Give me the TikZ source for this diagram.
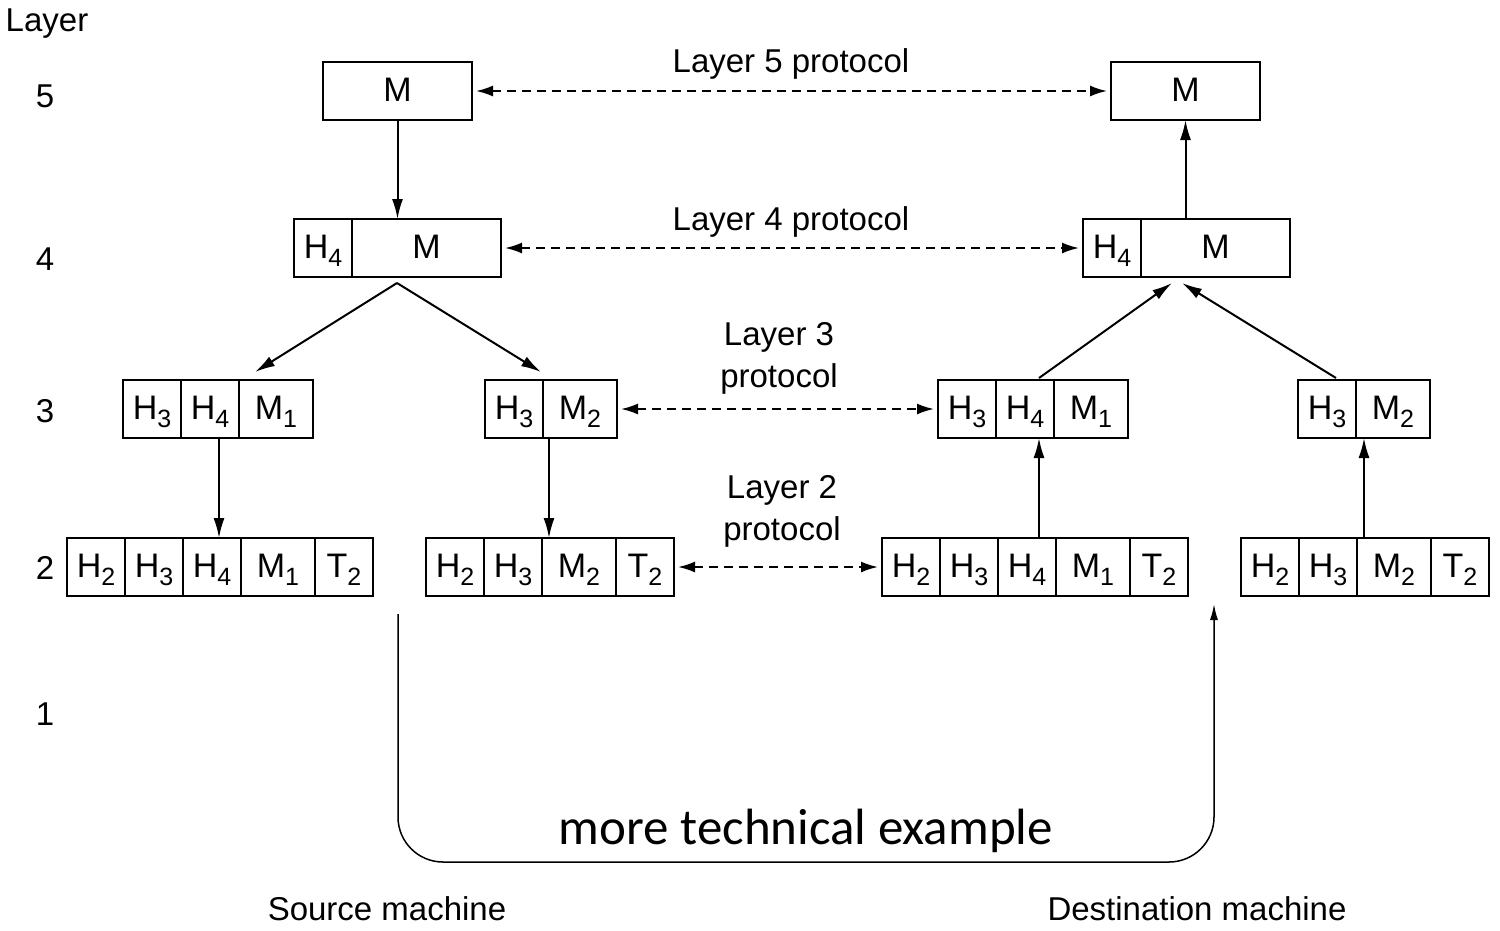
\documentclass[tikz,border=0pt]{standalone}
\usepackage{fontspec}
\setmainfont{Liberation Sans}
\newfontfamily\carlfont{Carlito}
\usetikzlibrary{arrows.meta,calc}
\newcommand\sbx[1]{\raisebox{-8pt}{\fontsize{25}{25}\selectfont #1}}
\begin{document}
\begin{tikzpicture}[x=1pt,y=-1pt,
  font=\fontsize{33}{42}\selectfont,
  cell/.style={draw, line width=2pt, minimum height=58pt, inner sep=0pt, outer sep=0pt, anchor=west,
    font=\fontsize{34}{40}\selectfont, text height=24pt, text depth=3pt},
  hc/.style={cell, minimum width=58pt},
  mc/.style={cell, minimum width=74pt},
  wc/.style={cell, minimum width=149pt},
  arr/.style={line width=2pt, -{Latex[length=20pt,width=11pt]}},
  darr/.style={line width=2pt, dash pattern=on 9pt off 6pt, shorten <=4pt, shorten >=4pt,
    {Latex[length=17pt,width=11pt]}-{Latex[length=17pt,width=11pt]}},
  lbl/.style={align=center, inner sep=0pt}]
\useasboundingbox (0,0) rectangle (1500,930);

% layer column
\node[lbl] (lay) at (47,24) {Layer};
\node[lbl] (n5) at (45,96) {5};
\node[lbl] (n4) at (45,259) {4};
\node[lbl] (n3) at (45,411) {3};
\node[lbl] (n2) at (45,568) {2};
\node[lbl] (n1) at (45,714) {1};

% layer 5
\node[wc] (s5) at (323,91) {M};
\node[wc] (d5) at (1111,91) {M};

% layer 4
\node[hc] (s4h) at (294,248) {H\sbx{4}};
\node[wc] (s4m) at (s4h.east) {M};
\node[hc] (d4h) at (1083,248) {H\sbx{4}};
\node[wc] (d4m) at (d4h.east) {M};

% layer 3
\node[hc] (s3a1) at (123,409) {H\sbx{3}};
\node[hc] (s3a2) at (s3a1.east) {H\sbx{4}};
\node[mc] (s3a3) at (s3a2.east) {M\sbx{1}};
\node[hc] (s3b1) at (485,409) {H\sbx{3}};
\node[mc] (s3b2) at (s3b1.east) {M\sbx{2}};
\node[hc] (d3a1) at (938,409) {H\sbx{3}};
\node[hc] (d3a2) at (d3a1.east) {H\sbx{4}};
\node[mc] (d3a3) at (d3a2.east) {M\sbx{1}};
\node[hc] (d3b1) at (1298,409) {H\sbx{3}};
\node[mc] (d3b2) at (d3b1.east) {M\sbx{2}};

% layer 2
\node[hc] (s2a1) at (67,567) {H\sbx{2}};
\node[hc] (s2a2) at (s2a1.east) {H\sbx{3}};
\node[hc] (s2a3) at (s2a2.east) {H\sbx{4}};
\node[mc] (s2a4) at (s2a3.east) {M\sbx{1}};
\node[hc] (s2a5) at (s2a4.east) {T\sbx{2}};
\node[hc] (s2b1) at (426,567) {H\sbx{2}};
\node[hc] (s2b2) at (s2b1.east) {H\sbx{3}};
\node[mc] (s2b3) at (s2b2.east) {M\sbx{2}};
\node[hc] (s2b4) at (s2b3.east) {T\sbx{2}};
\node[hc] (d2a1) at (882,567) {H\sbx{2}};
\node[hc] (d2a2) at (d2a1.east) {H\sbx{3}};
\node[hc] (d2a3) at (d2a2.east) {H\sbx{4}};
\node[mc] (d2a4) at (d2a3.east) {M\sbx{1}};
\node[hc] (d2a5) at (d2a4.east) {T\sbx{2}};
\node[hc] (d2b1) at (1241,567) {H\sbx{2}};
\node[hc] (d2b2) at (d2b1.east) {H\sbx{3}};
\node[mc] (d2b3) at (d2b2.east) {M\sbx{2}};
\node[hc] (d2b4) at (d2b3.east) {T\sbx{2}};

% protocol labels
\node[lbl] (l5) at (791,64) {Layer 5 protocol};
\node[lbl] (l4) at (791,222) {Layer 4 protocol};
\node[lbl] (l3) at (779,358) {Layer 3\\protocol};
\node[lbl] (l2) at (782,511) {Layer 2\\protocol};

% dashed protocol arrows
\draw[darr] (s5.east) -- (d5.west);
\draw[darr] (s4m.east) -- (d4h.west);
\draw[darr] (s3b2.east) -- (d3a1.west);
\draw[darr] (s2b4.east) -- (d2a1.west);

% source side (down)
\draw[arr] (s5.south) -- (s5.south |- s4m.north);
\coordinate (s4split) at (397,283);
\coordinate (s3atip) at (255,372);
\coordinate (s3btip) at (541,372);
\draw[arr] (s4split) -- (s3atip);
\draw[arr] (s4split) -- (s3btip);
\coordinate (s3aout) at ($(s3a2.south)+(9,0)$);
\draw[arr] (s3aout) -- (s3aout |- s2a3.north);
\coordinate (s3bout) at ($(s3b2.south west)+(6,0)$);
\draw[arr] (s3bout) -- (s3bout |- s2b3.north);

% destination side (up)
\coordinate (d2aout) at ($(d2a3.north)+(12,0)$);
\draw[arr] (d2aout) -- (d2aout |- d3a2.south);
\coordinate (d2bout) at ($(d2b3.north west)+(7,0)$);
\draw[arr] (d2bout) -- (d2bout |- d3b2.south);
\coordinate (d3aout) at ($(d3a2.north)+(14,-2)$);
\coordinate (d3bout) at ($(d3b1.north)+(9,-2)$);
\coordinate (d4tipa) at (1172,283);
\coordinate (d4tipb) at (1182,283);
\draw[arr] (d3aout) -- (d4tipa);
\draw[arr] (d3bout) -- (d4tipb);
\draw[arr] (d5.south |- d4m.north) -- (d5.south);

% physical medium
\coordinate (pstart) at (398,614);
\coordinate (pbl) at (398,862);
\coordinate (pbr) at (1214,862);
\coordinate (pend) at (1214,604);
\draw[line width=1.5pt, rounded corners=45pt, -{Latex[length=16pt,width=8pt]}]
  (pstart) -- (pbl) -- (pbr) -- (pend);
\node[lbl, font=\carlfont\fontsize{51}{60}\selectfont] (mte) at (806,831) {more technical example};

% machine labels
\node[lbl] (src) at (387,909) {Source machine};
\node[lbl] (dst) at (1197,909) {Destination machine};
\end{tikzpicture}
\end{document}
